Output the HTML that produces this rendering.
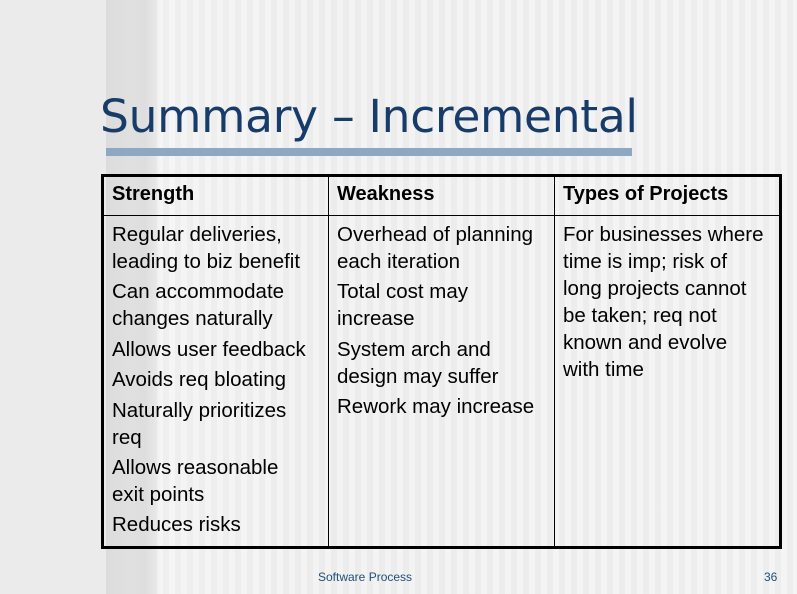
<!DOCTYPE html>
<html><head><meta charset="utf-8"><style>
body{margin:0;width:797px;height:594px;overflow:hidden;position:relative;font-family:"Liberation Sans","DejaVu Sans",sans-serif;
background:linear-gradient(to right,#ebebeb 0,#ebebeb 106px,#dcdcdc 106px,#e0e0e0 130px,#dedede 145px,#e8e8e8 157px,#f2f2f2 160px,#efefef 300px,#f0f0f0 797px);}
.stripes{position:absolute;left:157px;top:0;width:640px;height:594px;background:repeating-linear-gradient(to right,rgba(255,255,255,0.25) 0 6px,rgba(0,0,0,0.012) 6px 12px);}
h1{position:absolute;left:100px;top:90px;margin:0;font-weight:normal;font-size:45.5px;color:#173c6a;font-family:"DejaVu Sans",sans-serif;letter-spacing:-0.3px;}
.bar{position:absolute;left:106px;top:148px;width:526px;height:8px;background:#8ea7c2;}
table{position:absolute;left:101px;top:174px;width:681px;height:375px;border-collapse:collapse;border:3px solid #000;table-layout:fixed;}
td,th{border:1px solid #000;vertical-align:top;text-align:left;padding:0 4px 0 8px;font-size:20.5px;color:#000;overflow:hidden;white-space:nowrap;}
th{height:40px;padding-top:6px;font-weight:bold;font-size:20px;box-sizing:border-box;}
td p{margin:0 0 3.4px 0;line-height:27px;}
td{padding-top:5px;}
.foot{position:absolute;top:570px;font-size:12px;color:#1f4e79;}
</style></head><body>
<div class="stripes"></div>
<h1>Summary – Incremental</h1>
<div class="bar"></div>
<table>
<colgroup><col style="width:226px"><col style="width:226px"><col></colgroup>
<tr><th>Strength</th><th>Weakness</th><th>Types of Projects</th></tr>
<tr>
<td><p>Regular deliveries,<br>leading to biz benefit</p><p>Can accommodate<br>changes naturally</p><p>Allows user feedback</p><p>Avoids req bloating</p><p>Naturally prioritizes<br>req</p><p>Allows reasonable<br>exit points</p><p>Reduces risks</p></td>
<td><p>Overhead of planning<br>each iteration</p><p>Total cost may<br>increase</p><p>System arch and<br>design may suffer</p><p>Rework may increase</p></td>
<td><p>For businesses where<br>time is imp; risk of<br>long projects cannot<br>be taken; req not<br>known and evolve<br>with time</p></td>
</tr></table>
<div class="foot" style="left:318px">Software Process</div>
<div class="foot" style="left:764px">36</div>
</body></html>
